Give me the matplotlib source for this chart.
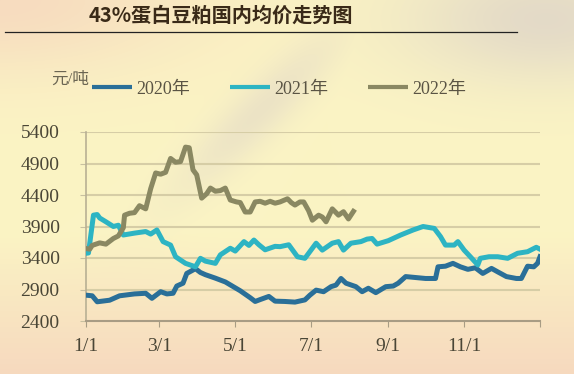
import numpy as np
import matplotlib
matplotlib.use("Agg")
import matplotlib.pyplot as plt

# =========================
# DATA (day of year, yuan/ton)
# =========================
days_2020 = [0, 5, 9, 19, 27, 39, 48, 53, 60, 65, 70, 73, 78, 81, 88, 92, 96, 104,
             112, 118, 124, 132, 136, 140, 147, 152, 160, 168, 176, 180, 185, 191,
             197, 201, 205, 209, 217, 222, 227, 233, 241, 247, 251, 257, 265, 273,
             281, 283, 289, 295, 301, 307, 313, 319, 326, 331, 338, 346, 350, 355,
             360, 363, 365]
price_2020 = [2810, 2800, 2705, 2730, 2800, 2830, 2840, 2760, 2865, 2830, 2840, 2955,
              3000, 3155, 3230, 3170, 3135, 3080, 3020, 2950, 2880, 2770, 2710, 2740,
              2790, 2715, 2710, 2700, 2735, 2810, 2890, 2865, 2945, 2970, 3075, 3000,
              2945, 2865, 2920, 2850, 2945, 2955, 3000, 3105, 3090, 3075, 3075, 3260,
              3270, 3315, 3260, 3220, 3245, 3155, 3235, 3180, 3105, 3075, 3075, 3270,
              3260, 3315, 3420]

days_2021 = [0, 2, 6, 9, 11, 16, 22, 26, 30, 39, 48, 52, 57, 62, 68, 72, 80, 88, 92,
             96, 104, 108, 116, 120, 127, 131, 135, 139, 144, 152, 156, 163, 170, 176,
             182, 185, 190, 198, 203, 207, 213, 221, 226, 230, 234, 243, 253, 263, 271,
             280, 285, 289, 296, 299, 304, 309, 315, 317, 324, 331, 339, 347, 355, 362,
             365]
price_2021 = [3475, 3480, 4080, 4090, 4035, 3975, 3900, 3920, 3765, 3795, 3820, 3780,
              3845, 3660, 3605, 3420, 3315, 3260, 3395, 3350, 3315, 3450, 3555, 3510,
              3660, 3600, 3685, 3610, 3530, 3585, 3580, 3610, 3420, 3395, 3555, 3635,
              3525, 3635, 3660, 3525, 3635, 3660, 3700, 3710, 3620, 3675, 3765, 3845,
              3900, 3870, 3740, 3605, 3605, 3660, 3525, 3420, 3290, 3395, 3420, 3420,
              3395, 3475, 3500, 3570, 3540]

days_2022 = [0, 3, 5, 11, 16, 22, 26, 30, 31, 35, 39, 43, 48, 52, 56, 60, 64, 68, 72,
             76, 80, 83, 86, 89, 93, 97, 100, 104, 108, 112, 116, 121, 124, 128, 132,
             136, 140, 144, 148, 152, 156, 162, 165, 168, 172, 175, 179, 182, 187, 190,
             193, 198, 203, 207, 211, 215]
price_2022 = [3550, 3540, 3600, 3640, 3620, 3710, 3750, 3880, 4080, 4110, 4120, 4230,
              4180, 4500, 4750, 4730, 4760, 4980, 4920, 4930, 5160, 5150, 4800, 4720,
              4350, 4420, 4510, 4460, 4470, 4510, 4320, 4290, 4280, 4130, 4130, 4290,
              4300, 4270, 4300, 4270, 4290, 4340, 4280, 4240, 4290, 4290, 4150, 4000,
              4080, 4050, 3975, 4180, 4080, 4135, 4020, 4140]

tick_days = [0, 59, 120, 181, 243, 304, 365]
tick_labels = ["1/1", "3/1", "5/1", "7/1", "9/1", "11/1", ""]
y_ticks = [2400, 2900, 3400, 3900, 4400, 4900, 5400]

TITLE = "43%蛋白豆粕国内均价走势图"
UNIT = "元/吨"

C2020 = "#2a6f98"
C2021 = "#2db4c3"
C2022 = "#8a8862"
TEXT = "#4a4636"
SERIF = ["Liberation Serif", "Noto Sans CJK SC"]

# =========================
# FIGURE + BACKGROUND
# =========================
W, H = 574, 374
fig = plt.figure(figsize=(W / 100, H / 100), dpi=100)

yy, xx = np.mgrid[0:H, 0:W]
xn, yn = xx / W, yy / H
yellow = np.array([251, 244, 196]) / 255
peach = np.array([246, 214, 190]) / 255
gray = np.array([222, 212, 200]) / 255
w_peach = np.clip((yn - 0.62) / 0.38, 0, 1) * 0.9
w_peach = np.maximum(w_peach, np.exp(-(xn ** 2 / 0.12 + yn ** 2 / 0.04)) * 0.8)
w_gray = np.exp(-((xn - 0.95) ** 2 / 0.06 + (yn - 0.05) ** 2 / 0.03)) * 0.8
w_gray = np.maximum(w_gray, np.exp(-(((xn - 0.45) + 0.6 * (yn - 0.3)) ** 2 / 0.004)
                                   - (yn - 0.3) ** 2 / 0.05) * 0.5)
img = yellow * (1 - w_peach - w_gray)[..., None] \
    + peach * w_peach[..., None] + gray * w_gray[..., None]
bg = fig.add_axes([0, 0, 1, 1], zorder=-1)
bg.imshow(np.clip(img, 0, 1), aspect="auto", extent=[0, W, H, 0])
bg.set_xlim(0, W)
bg.set_ylim(H, 0)
bg.axis("off")

# title and rule
bg.text(221, 15, TITLE, fontsize=14.5, fontweight="bold", color="#3a2a18",
        ha="center", va="center", family=["Noto Sans CJK SC", "DejaVu Sans"])
bg.plot([5, 517], [32, 32], color="#222222", lw=0.9)

# unit + legend
bg.text(51, 80, UNIT, fontsize=12, color="#6b6552", ha="left", va="center", family=SERIF)
for x0, col, lab in [(92, C2020, "2020年"), (230, C2021, "2021年"), (368, C2022, "2022年")]:
    bg.plot([x0, x0 + 40], [87, 87], color=col, lw=3, solid_capstyle="butt")
    bg.text(x0 + 44, 89, lab, fontsize=13, color="#5a5444", ha="left", va="center",
            family=SERIF)

# =========================
# MAIN AXES
# =========================
ax = fig.add_axes([86 / W, 1 - 321 / H, 454 / W, 189 / H])
ax.patch.set_alpha(0)
ax.set_xlim(0, 365)
ax.set_ylim(2400, 5400)

for v in y_ticks[1:]:
    ax.axhline(v, color="#d6cda6", lw=1.5, zorder=1)

ax.plot(days_2020, price_2020, color=C2020, lw=3.6, zorder=3, solid_joinstyle="round")
ax.plot(days_2021, price_2021, color=C2021, lw=3.6, zorder=4, solid_joinstyle="round")
ax.plot(days_2022, price_2022, color=C2022, lw=3.6, zorder=5, solid_joinstyle="round")

for s in ["top", "right"]:
    ax.spines[s].set_visible(False)
ax.spines["left"].set_color("#b8b094")
ax.spines["bottom"].set_color("#a89c84")
ax.spines["left"].set_linewidth(1.2)
ax.spines["bottom"].set_linewidth(1.5)

ax.set_yticks(y_ticks)
ax.set_yticklabels([str(v) for v in y_ticks])
ax.set_xticks(tick_days)
ax.set_xticklabels(tick_labels)
ax.tick_params(axis="y", length=4, color="#c8c0a0", pad=15, labelsize=14, labelcolor=TEXT)
ax.tick_params(axis="x", length=4, color="#a89c84", pad=8, labelsize=14, labelcolor=TEXT)
for lab in ax.get_xticklabels() + ax.get_yticklabels():
    lab.set_family(SERIF)

fig.savefig("out.png", dpi=100)
